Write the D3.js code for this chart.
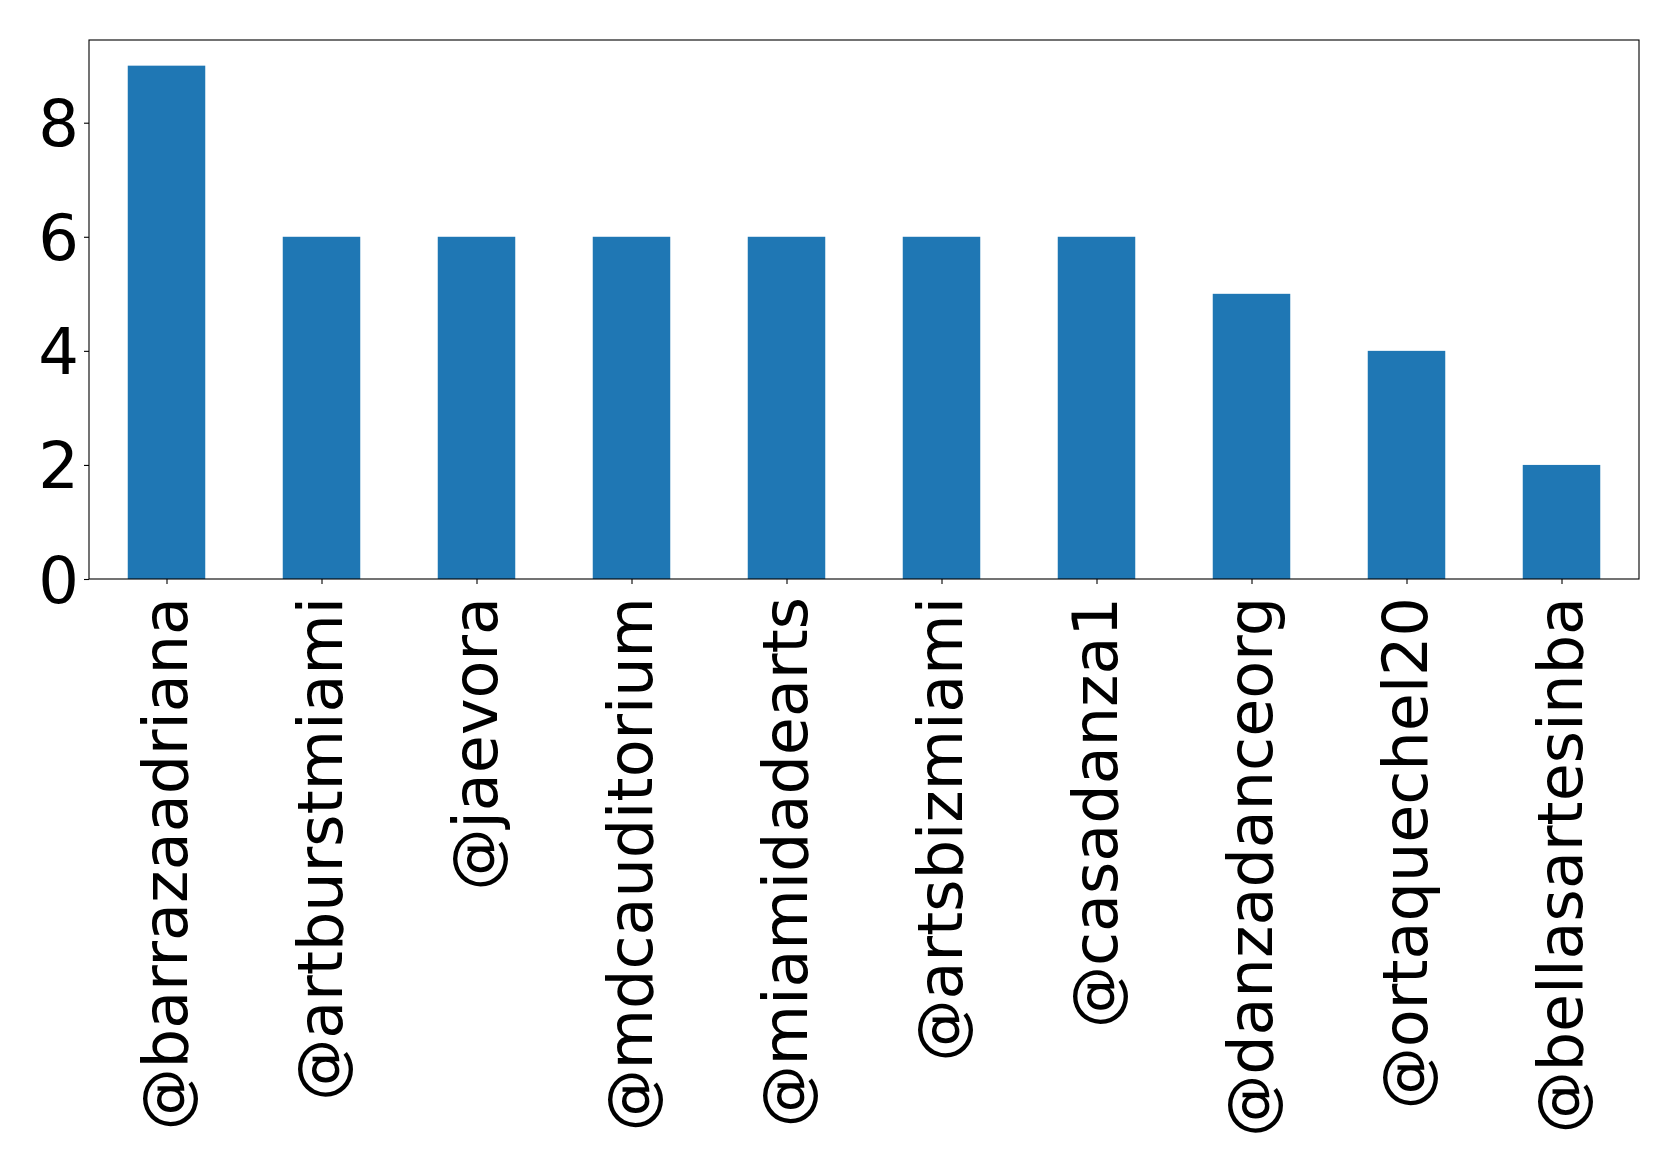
<!DOCTYPE html>
<html>
<head>
<meta charset="utf-8">
<script src="https://cdn.jsdelivr.net/npm/d3@7"></script>
<style>
  html, body { margin: 0; padding: 0; background: #fff; }
  svg { display: block; }
  text { font-family: "DejaVu Sans", sans-serif; fill: #000; }
</style>
</head>
<body>
<svg id="chart" width="1679" height="1172"></svg>
<script>
const categories = ["@barrazaadriana", "@artburstmiami", "@jaevora", "@mdcauditorium", "@miamidadearts", "@artsbizmiami", "@casadanza1", "@danzadanceorg", "@ortaquechel20", "@bellasartesinba"];
const values = [9, 6, 6, 6, 6, 6, 6, 5, 4, 2];
const yTicks = [0, 2, 4, 6, 8];

const W = 1679, H = 1172;
const plot = { left: 89, right: 1639, top: 40, bottom: 579 };
const svg = d3.select("#chart");

const x = d3.scaleLinear().domain([-0.5, categories.length - 0.5]).range([plot.left, plot.right]);
const y = d3.scaleLinear().domain([0, d3.max(values) * 1.05]).range([plot.bottom, plot.top]);
const barW = x(0.25) - x(-0.25);

// bars
svg.append("g").selectAll("rect").data(values).join("rect")
  .attr("x", (d, i) => x(i) - barW / 2)
  .attr("y", d => y(d))
  .attr("width", barW)
  .attr("height", d => y(0) - y(d))
  .attr("fill", "#1f77b4");

// frame
svg.append("rect")
  .attr("x", plot.left).attr("y", plot.top)
  .attr("width", plot.right - plot.left).attr("height", plot.bottom - plot.top)
  .attr("fill", "none").attr("stroke", "#000").attr("stroke-width", 1.1);

// y axis
const yAxis = d3.axisLeft(y).tickValues(yTicks).tickSize(5).tickPadding(5).tickFormat(d3.format("d"));
const gy = svg.append("g").attr("transform", `translate(${plot.left},0)`).call(yAxis);
gy.select(".domain").remove();
gy.selectAll(".tick line").attr("stroke", "#000").attr("stroke-width", 1.1);
gy.selectAll(".tick text")
  .attr("font-size", 64).attr("font-family", "DejaVu Sans, sans-serif")
  .attr("fill", "#000").attr("dy", "0.36em");

// x axis
const xAxis = d3.axisBottom(x).tickValues(d3.range(categories.length)).tickSize(5).tickFormat(i => categories[i]);
const gx = svg.append("g").attr("transform", `translate(0,${plot.bottom})`).call(xAxis);
gx.select(".domain").remove();
gx.selectAll(".tick line").attr("stroke", "#000").attr("stroke-width", 1.1);
gx.selectAll(".tick text")
  .attr("font-size", 62).attr("font-family", "DejaVu Sans, sans-serif")
  .attr("fill", "#000")
  .attr("text-anchor", "end")
  .attr("x", 0).attr("y", 0)
  .attr("dy", "0.32em")
  .attr("transform", "translate(0,18) rotate(-90)");
</script>
</body>
</html>
